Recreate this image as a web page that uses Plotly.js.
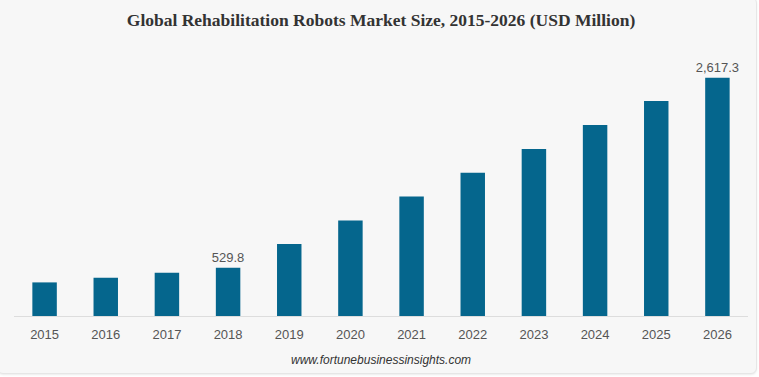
<!DOCTYPE html>
<html>
<head>
<meta charset="utf-8">
<script src="https://cdn.plot.ly/plotly-3.0.1.min.js"></script>
<style>
  html, body { margin: 0; padding: 0; background: #ffffff; }
  #card { position: absolute; left: -3px; top: -3px; width: 758px; height: 375px;
          background: #f7f7f7; border: 1px solid #e6e6e6; border-radius: 6px;
          box-shadow: 0 1px 2px rgba(0,0,0,0.08); }
  #chart { position: absolute; left: 0; top: 0; width: 759px; height: 377px; }
</style>
</head>
<body>
<div id="card"></div>
<div id="chart"></div>
<script>
const years = ['2015','2016','2017','2018','2019','2020','2021','2022','2023','2024','2025','2026'];
const marketSize = [369, 420, 475, 529.8, 791, 1050, 1313, 1573, 1834, 2097, 2361, 2617.3];
const valueLabels = ['', '', '', '529.8', '', '', '', '', '', '', '', '2,617.3'];
const titleText = 'Global Rehabilitation Robots Market Size, 2015-2026 (USD Million)';
const sourceText = 'www.fortunebusinessinsights.com';

const trace = {
  type: 'bar',
  x: years,
  y: marketSize,
  text: valueLabels,
  textposition: 'outside',
  constraintext: 'none',
  cliponaxis: false,
  textfont: { family: 'Liberation Sans, Arial, sans-serif', size: 13, color: '#555555' },
  marker: { color: '#05668d' },
  hoverinfo: 'x+y'
};

const layout = {
  width: 759,
  height: 377,
  margin: { l: 14, r: 11, t: 50, b: 61 },
  paper_bgcolor: 'rgba(0,0,0,0)',
  plot_bgcolor: 'rgba(0,0,0,0)',
  bargap: 0.6,
  showlegend: false,
  uniformtext: { mode: false },
  title: {
    text: '<b>' + titleText + '</b>',
    font: { family: 'Liberation Serif, Times New Roman, serif', size: 17.5, color: '#333333' },
    x: 0.5, xref: 'paper', xanchor: 'center',
    y: 0.947, yref: 'container', yanchor: 'middle'
  },
  xaxis: {
    type: 'category',
    showline: true, linecolor: '#dddddd', linewidth: 1,
    showgrid: false, zeroline: false,
    ticks: 'outside', ticklen: 6, tickcolor: 'rgba(0,0,0,0)',
    tickfont: { family: 'Liberation Sans, Arial, sans-serif', size: 13, color: '#555555' }
  },
  yaxis: {
    range: [0, 2921],
    visible: false,
    showgrid: false, zeroline: false
  },
  annotations: [{
    text: '<i>' + sourceText + '</i>',
    xref: 'paper', yref: 'paper',
    x: 0.5, y: -0.164, xanchor: 'center', yanchor: 'middle',
    showarrow: false,
    font: { family: 'Liberation Sans, Arial, sans-serif', size: 12, color: '#333333' }
  }]
};

Plotly.newPlot('chart', [trace], layout, { displayModeBar: false, staticPlot: true });
</script>
</body>
</html>
